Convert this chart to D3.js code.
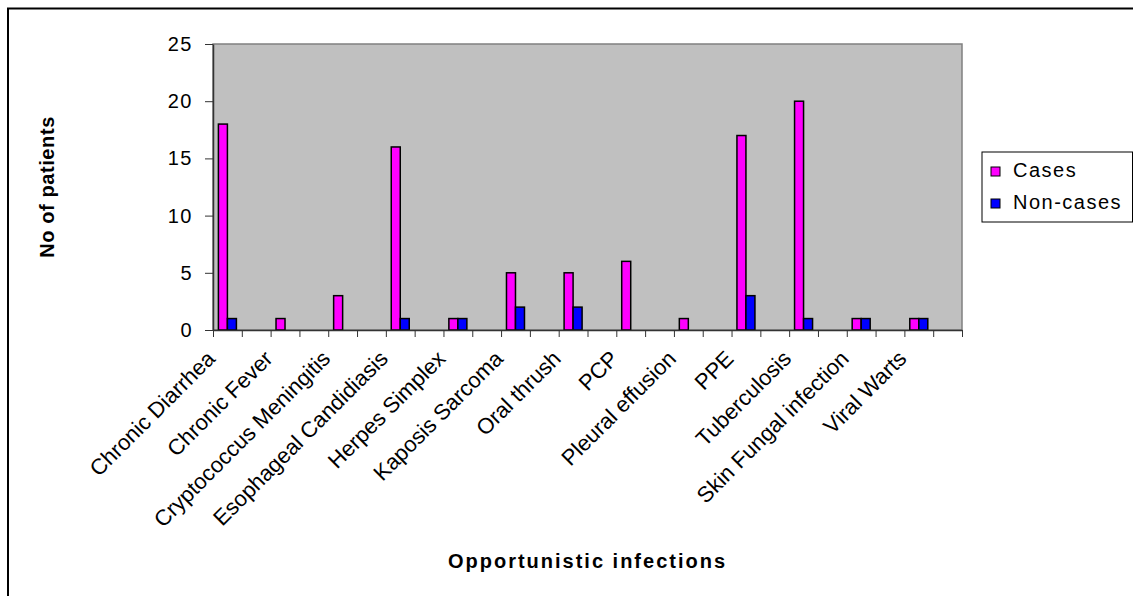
<!DOCTYPE html>
<html>
<head>
<meta charset="utf-8">
<script src="https://cdn.jsdelivr.net/npm/d3@7"></script>
<style>
  html, body { margin: 0; padding: 0; background: #fff; }
  svg { display: block; font-family: "Liberation Sans", Arial, sans-serif; }
</style>
</head>
<body>
<svg id="chart" width="1133" height="596"></svg>
<script>
const categories = ["Chronic Diarrhea", "Chronic Fever", "Cryptococcus Meningitis", "Esophageal Candidiasis",
  "Herpes Simplex", "Kaposis Sarcoma", "Oral thrush", "PCP", "Pleural effusion", "PPE",
  "Tuberculosis", "Skin Fungal infection", "Viral Warts"];
const seriesNames = ["Cases", "Non-cases"];
const cases    = [18, 1, 3, 16, 1, 5, 5, 6, 1, 17, 20, 1, 1];
const nonCases = [1, 0, 0, 1, 1, 2, 2, 0, 0, 3, 1, 1, 1];
const yTicks = [0, 5, 10, 15, 20, 25];
const colors = ["#FF00FF", "#0000FF"];

(function () {
const svg = d3.select("#chart");

// outer border
svg.append("rect").attr("x", 8).attr("y", 8.5).attr("width", 1140).attr("height", 600)
  .attr("fill", "none").attr("stroke", "#000").attr("stroke-width", 2);

const pL = 213, pR = 962, pT = 44, pB = 330;

// each category occupies two slots: data slot + empty slot
const nSlots = categories.length * 2;
const xSlot = d3.scaleBand().domain(d3.range(nSlots)).range([pL, pR]).paddingInner(0).paddingOuter(0);
const xLin = d3.scaleLinear().domain([0, nSlots]).range([pL, pR]);
const xSeries = d3.scaleBand().domain(seriesNames).range([0, xSlot.bandwidth()]).paddingInner(0).paddingOuter(0.6);
const y = d3.scaleLinear().domain([0, 25]).range([pB, pT]);

// plot area
svg.append("rect").attr("x", pL).attr("y", pT).attr("width", pR - pL).attr("height", pB - pT)
  .attr("fill", "#C0C0C0").attr("stroke", "#808080").attr("stroke-width", 1.5);

// bars
const rows = categories.map((c, i) => ({ cat: c, i, vals: [cases[i], nonCases[i]] }));
const g = svg.append("g");
rows.forEach(r => {
  r.vals.forEach((v, k) => {
    if (v <= 0) return;
    g.append("rect")
      .attr("x", xSlot(r.i * 2) + xSeries(seriesNames[k]))
      .attr("y", y(v))
      .attr("width", xSeries.bandwidth())
      .attr("height", y(0) - y(v))
      .attr("fill", colors[k])
      .attr("stroke", "#000").attr("stroke-width", 1.5);
  });
});

// y axis
const yAxis = d3.axisLeft(y).tickValues(yTicks).tickSizeInner(8).tickSizeOuter(0).tickPadding(12);
const yg = svg.append("g").attr("transform", `translate(${pL},0)`).call(yAxis);
yg.select(".domain").attr("stroke", "#333").attr("stroke-width", 1.5);
yg.selectAll(".tick line").attr("stroke", "#333");
yg.selectAll(".tick text").attr("font-size", 20).attr("fill", "#000")
  .attr("font-family", "Liberation Sans, Arial, sans-serif").style("letter-spacing", "1.5px");

// x axis (ticks at slot boundaries)
const xAxis = d3.axisBottom(xLin).tickValues(d3.range(nSlots + 1)).tickFormat("").tickSizeInner(7).tickSizeOuter(0);
const xg = svg.append("g").attr("transform", `translate(0,${pB})`).call(xAxis);
xg.select(".domain").attr("stroke", "#333").attr("stroke-width", 1.5);
xg.selectAll(".tick line").attr("stroke", "#333");

// category labels
svg.append("g").selectAll("text").data(categories).join("text")
  .attr("transform", (d, i) => `translate(${xSlot(i * 2) + xSlot.bandwidth() / 2 - 11},${pB + 30}) rotate(-45)`)
  .attr("text-anchor", "end")
  .attr("font-size", 22)
  .text(d => d);

// axis titles
svg.append("text").attr("x", (pL + pR) / 2).attr("y", 568).attr("text-anchor", "middle")
  .attr("font-size", 20).attr("font-weight", "bold").style("letter-spacing", "2px")
  .text("Opportunistic infections");
svg.append("text").attr("transform", `translate(54,${(pT + pB) / 2}) rotate(-90)`)
  .attr("text-anchor", "middle").attr("font-size", 20).attr("font-weight", "bold").style("letter-spacing", "0.6px")
  .text("No of patients");

// legend
const lg = svg.append("g");
lg.append("rect").attr("x", 982).attr("y", 152).attr("width", 150.5).attr("height", 70)
  .attr("fill", "#fff").attr("stroke", "#000").attr("stroke-width", 1);
seriesNames.forEach((s, k) => {
  const yy = 167 + k * 32;
  lg.append("rect").attr("x", 991).attr("y", yy).attr("width", 9).attr("height", 9)
    .attr("fill", colors[k]).attr("stroke", "#000").attr("stroke-width", 1);
  lg.append("text").attr("x", 1013).attr("y", yy + 10).attr("font-size", 20)
    .style("letter-spacing", "1.5px").text(s);
});
})();
</script>
</body>
</html>
